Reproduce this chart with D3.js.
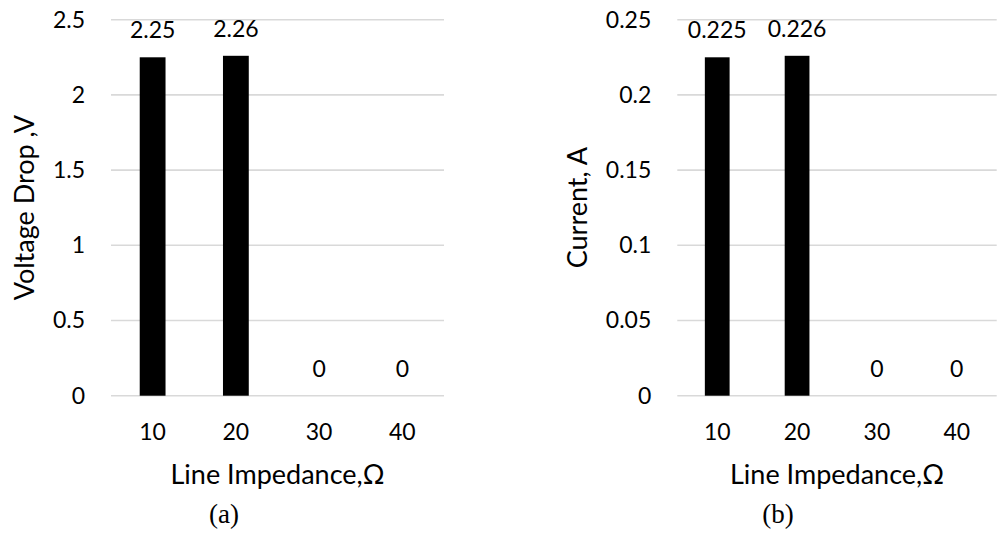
<!DOCTYPE html>
<html>
<head>
<meta charset="utf-8">
<script src="https://cdn.jsdelivr.net/npm/d3@7"></script>
<style>
  html, body { margin: 0; padding: 0; background: #fff; }
  svg { display: block; }
</style>
</head>
<body>
<svg id="chart" width="1002" height="533"></svg>
<script>
// Line impedance categories (Ω)
const impedance = ["10", "20", "30", "40"];

// Panel (a): voltage drop in volts
const voltageDrop = [2.25, 2.26, 0, 0];
const voltageTicks = [0, 0.5, 1, 1.5, 2, 2.5];

// Panel (b): current in amperes
const current = [0.225, 0.226, 0, 0];
const currentTicks = [0, 0.05, 0.1, 0.15, 0.2, 0.25];

const svg = d3.select("#chart");
const sansFont = "Lato, 'Open Sans', sans-serif";
const serifFont = "'Liberation Serif', 'DejaVu Serif', serif";
const labelSize = 23;
const titleSize = 27;

function drawPanel(opts) {
  const { left, right, top, bottom, values, ticks, yMax, yTitle, yTitleX, caption, captionX } = opts;
  const g = svg.append("g");

  const x = d3.scaleBand().domain(impedance).range([left, right]).paddingInner(0.69).paddingOuter(0.345);
  const y = d3.scaleLinear().domain([0, yMax]).range([bottom, top]);

  // horizontal gridlines
  g.append("g").selectAll("line").data(ticks).join("line")
    .attr("x1", left).attr("x2", right)
    .attr("y1", d => y(d)).attr("y2", d => y(d))
    .attr("stroke", "#d9d9d9").attr("stroke-width", 1.6);

  // y tick labels
  const yAxis = d3.axisLeft(y).tickValues(ticks).tickSize(0).tickPadding(0)
    .tickFormat(d => String(+d.toFixed(3)));
  const ya = g.append("g").attr("transform", `translate(${left - 26},0)`).call(yAxis);
  ya.select(".domain").remove();
  ya.selectAll("text").attr("font-family", sansFont).attr("font-size", labelSize).attr("fill", "#000");

  // x tick labels
  const xAxis = d3.axisBottom(x).tickSize(0).tickPadding(0);
  const xa = g.append("g").attr("transform", `translate(0,${bottom + 28})`).call(xAxis);
  xa.select(".domain").remove();
  xa.selectAll("text").attr("font-family", sansFont).attr("font-size", labelSize).attr("fill", "#000");

  // bars
  g.append("g").selectAll("rect").data(values).join("rect")
    .attr("x", (d, i) => x(impedance[i]))
    .attr("width", x.bandwidth())
    .attr("y", d => y(d))
    .attr("height", d => y(0) - y(d))
    .attr("fill", "#000");

  // value labels
  g.append("g").selectAll("text").data(values).join("text")
    .attr("x", (d, i) => x(impedance[i]) + x.bandwidth() / 2)
    .attr("y", d => y(d) - 19)
    .attr("text-anchor", "middle")
    .attr("font-family", sansFont).attr("font-size", labelSize).attr("fill", "#000")
    .text(d => String(d));

  // axis titles
  g.append("text")
    .attr("x", (left + right) / 2).attr("y", bottom + 88)
    .attr("text-anchor", "middle")
    .attr("font-family", sansFont).attr("font-size", titleSize).attr("fill", "#000")
    .text("Line Impedance,Ω");

  g.append("text")
    .attr("transform", `translate(${yTitleX},${(top + bottom) / 2}) rotate(-90)`)
    .attr("text-anchor", "middle")
    .attr("font-family", sansFont).attr("font-size", titleSize).attr("fill", "#000")
    .text(yTitle);

  // sub-figure caption
  g.append("text")
    .attr("x", captionX).attr("y", 523)
    .attr("text-anchor", "middle")
    .attr("font-family", serifFont).attr("font-size", 27).attr("fill", "#000")
    .text(caption);
}

drawPanel({
  left: 111, right: 444, top: 19.7, bottom: 395.7,
  values: voltageDrop, ticks: voltageTicks, yMax: 2.5,
  yTitle: "Voltage Drop ,V", yTitleX: 34,
  caption: "(a)", captionX: 224
});

drawPanel({
  left: 677.3, right: 996.7, top: 19.7, bottom: 395.7,
  values: current, ticks: currentTicks, yMax: 0.25,
  yTitle: "Current, A", yTitleX: 587,
  caption: "(b)", captionX: 778
});
</script>
</body>
</html>
